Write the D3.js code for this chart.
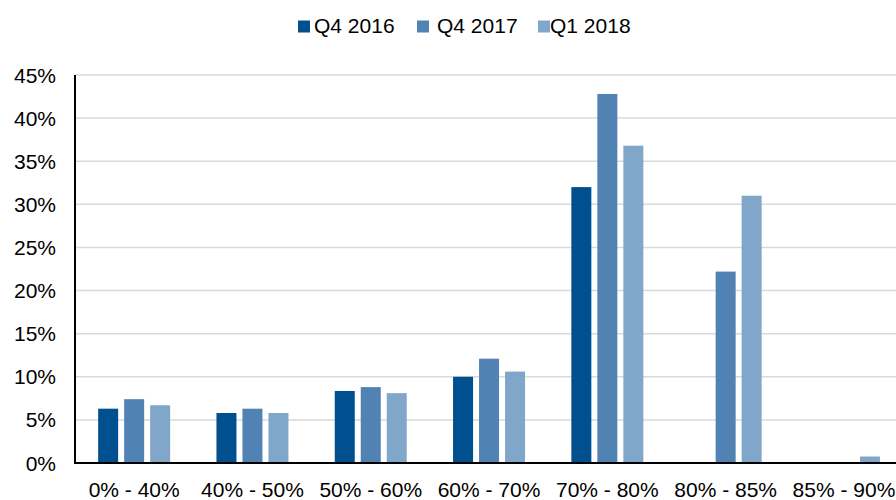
<!DOCTYPE html>
<html>
<head>
<meta charset="utf-8">
<script src="https://cdn.jsdelivr.net/npm/d3@7"></script>
<style>
  html, body { margin: 0; padding: 0; background: #fff; overflow: hidden; }
  text { font-family: "Liberation Sans", Arial, sans-serif; fill: #000; }
</style>
</head>
<body>
<svg id="chart"></svg>
<script>
// ---- data ----
const categories = ["0% - 40%", "40% - 50%", "50% - 60%", "60% - 70%", "70% - 80%", "80% - 85%", "85% - 90%"];
const seriesNames = ["Q4 2016", "Q4 2017", "Q1 2018"];
const q42016 = [6.3, 5.8, 8.35, 10.0, 32.0, 0, 0];
const q42017 = [7.4, 6.3, 8.8, 12.1, 42.8, 22.2, 0];
const q12018 = [6.7, 5.8, 8.1, 10.6, 36.8, 31.0, 0.75];
const yTicks = [0, 5, 10, 15, 20, 25, 30, 35, 40, 45];
const colors = ["#00508f", "#5083b3", "#80a7ca"];

const seriesValues = [q42016, q42017, q12018];

const width = 896, height = 500;
const margin = { left: 75, top: 75, bottom: 463 };
const bandW = 118.3;

const svg = d3.select("#chart").attr("width", width).attr("height", height);

// scales
const x = d3.scaleBand()
  .domain(categories)
  .range([margin.left, margin.left + bandW * categories.length])
  .paddingInner(0).paddingOuter(0);

const xSub = d3.scaleBand()
  .domain(seriesNames)
  .range([0, 72])
  .paddingInner(6 / 26).paddingOuter(0);

const y = d3.scaleLinear().domain([0, 45]).range([margin.bottom, margin.top]);

// gridlines
svg.append("g").selectAll("line")
  .data(yTicks.filter(t => t > 0))
  .enter().append("line")
  .attr("x1", margin.left).attr("x2", width)
  .attr("y1", d => y(d)).attr("y2", d => y(d))
  .style("stroke", "#d9d9d9").style("stroke-width", 1.5);

// y labels
svg.append("g").selectAll("text")
  .data(yTicks)
  .enter().append("text")
  .attr("x", 56).attr("y", d => y(d))
  .attr("dy", "0.36em")
  .attr("text-anchor", "end")
  .style("font-size", "21px")
  .text(d => d + "%");

// bars
const rows = [];
seriesNames.forEach((s, i) => {
  categories.forEach((c, j) => {
    rows.push({ series: s, cat: c, value: seriesValues[i][j], color: colors[i] });
  });
});

svg.append("g").selectAll("rect")
  .data(rows.filter(d => d.value > 0))
  .enter().append("rect")
  .attr("x", d => x(d.cat) + x.bandwidth() / 2 - 36 + xSub(d.series))
  .attr("width", xSub.bandwidth())
  .attr("y", d => y(d.value))
  .attr("height", d => y(0) - y(d.value))
  .style("fill", d => d.color);

// axes lines
svg.append("line")
  .attr("x1", margin.left).attr("x2", margin.left)
  .attr("y1", y(45)).attr("y2", y(0) + 1)
  .style("stroke", "#000").style("stroke-width", 2);
svg.append("line")
  .attr("x1", margin.left - 1).attr("x2", width)
  .attr("y1", y(0)).attr("y2", y(0))
  .style("stroke", "#000").style("stroke-width", 2);

// x labels
svg.append("g").selectAll("text")
  .data(categories)
  .enter().append("text")
  .attr("x", d => x(d) + x.bandwidth() / 2)
  .attr("y", 497)
  .attr("text-anchor", "middle")
  .style("font-size", "21px")
  .text(d => d);

// legend
const legendPos = [
  { sq: 298, tx: 314 },
  { sq: 417, tx: 437 },
  { sq: 538, tx: 550 }
];
const legend = svg.append("g").selectAll("g")
  .data(seriesNames)
  .enter().append("g");
legend.append("rect")
  .attr("x", (d, i) => legendPos[i].sq).attr("y", 20.5)
  .attr("width", 12).attr("height", 12)
  .style("fill", (d, i) => colors[i]);
legend.append("text")
  .attr("x", (d, i) => legendPos[i].tx).attr("y", 33)
  .style("font-size", "21px")
  .text(d => d);
</script>
</body>
</html>
